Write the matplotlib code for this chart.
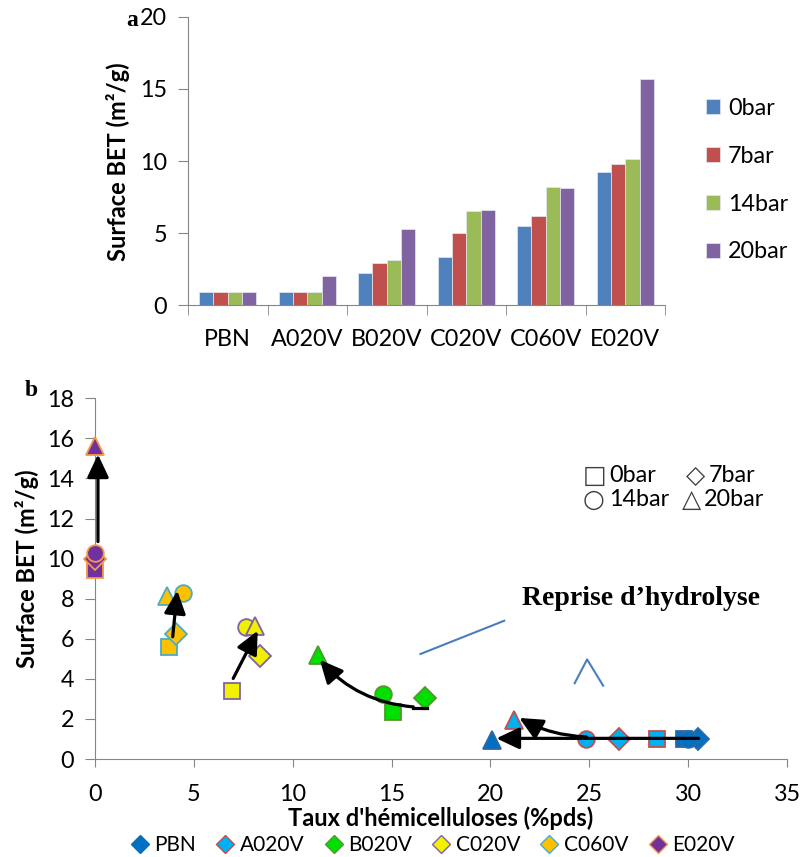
import matplotlib.pyplot as plt
from matplotlib.lines import Line2D

plt.rcParams['font.family'] = ['Lato', 'DejaVu Sans']

# ---- panel a : BET surface per sample and pressure ----
categories = ['PBN', 'A020V', 'B020V', 'C020V', 'C060V', 'E020V']
pressures = ['0bar', '7bar', '14bar', '20bar']
bet_0bar = [0.9, 0.9, 2.25, 3.3, 5.5, 9.25]
bet_7bar = [0.9, 0.9, 2.95, 5.0, 6.15, 9.8]
bet_14bar = [0.9, 0.9, 3.1, 6.5, 8.2, 10.15]
bet_20bar = [0.9, 2.0, 5.25, 6.6, 8.1, 15.7]
bar_colors = ['#4f81bd', '#c0504d', '#9bbb59', '#8064a2']

# ---- panel b : BET vs hemicellulose content (0, 7, 14, 20 bar) ----
samples = ['PBN', 'A020V', 'B020V', 'C020V', 'C060V', 'E020V']
hemi_pbn = [29.8, 30.5, 30.0, 20.1]
bet_pbn = [1.0, 1.0, 1.0, 0.95]
hemi_a020v = [28.45, 26.5, 24.85, 21.2]
bet_a020v = [1.0, 1.0, 1.0, 1.95]
hemi_b020v = [15.05, 16.7, 14.55, 11.3]
bet_b020v = [2.35, 3.03, 3.23, 5.2]
hemi_c020v = [6.95, 8.35, 7.63, 8.09]
bet_c020v = [3.41, 5.14, 6.6, 6.65]
hemi_c060v = [3.73, 4.1, 4.46, 3.65]
bet_c060v = [5.6, 6.22, 8.3, 8.15]
hemi_e020v = [0.0, 0.0, 0.0, 0.0]
bet_e020v = [9.43, 9.96, 10.26, 15.6]

fills = ['#0070c0', '#00b0f0', '#00e000', '#f0f000', '#ffc000', '#7030a0']
edges = ['#2f67a8', '#c0504d', '#4f9a2a', '#8064a2', '#4bacc6', '#f79646']
markers = ['s', 'D', 'o', '^']
marker_syms = ['\u25a1', '\u25c7', '\u25cb', '\u25b3']

# arrows: (tail x, tail y, tip x, tip y, curvature)
arrows = [
    (0.15, 10.85, 0.15, 15.2, 0.0),
    (3.93, 6.1, 4.16, 8.4, 0.0),
    (6.99, 4.02, 8.23, 6.4, 0.0),
    (16.1, 2.6, 11.37, 4.95, -0.2),
    (24.85, 1.1, 21.46, 2.05, -0.12),
    (30.53, 1.03, 20.3, 1.03, 0.0),
]

gray = '#868686'

fig = plt.figure(figsize=(8.05, 8.57), dpi=100)

# ================= panel a =================
ax1 = fig.add_axes([188/805, 1-305/857, (665-188)/805, (305-17)/857])
series = [bet_0bar, bet_7bar, bet_14bar, bet_20bar]
w = 0.18
for i, vals in enumerate(series):
    xs = [k + (i - 1.5) * w for k in range(len(categories))]
    ax1.bar(xs, vals, width=w, color=bar_colors[i], edgecolor='#e8e8f0',
            linewidth=0.5, label=pressures[i])
ax1.set_xlim(-0.5, len(categories) - 0.5)
ax1.set_ylim(0, 20)
ax1.set_yticks(range(0, 21, 5))
ax1.set_xticks(range(len(categories)))
ax1.set_xticklabels(categories)
ax1.set_xticks([k - 0.5 for k in range(len(categories) + 1)], minor=True)
ax1.tick_params(axis='x', which='major', length=0, pad=17, labelsize=16.8)
ax1.tick_params(axis='x', which='minor', length=7, color=gray)
ax1.tick_params(axis='y', length=7, color=gray, pad=8, labelsize=16.8)
for s in ['top', 'right']:
    ax1.spines[s].set_visible(False)
for s in ['left', 'bottom']:
    ax1.spines[s].set_color(gray)
ax1.set_ylabel('Surface BET (m²/g)', fontsize=17, fontweight='bold')
ax1.yaxis.set_label_coords(-(188 - 130) / 477, (305 - 162) / 288)
ax1.legend(loc='upper left', bbox_to_anchor=(706/805, 1-98/857),
           bbox_transform=fig.transFigure, frameon=False, fontsize=16.8,
           handlelength=0.6, handleheight=0.6, handletextpad=0.35,
           labelspacing=1.15, borderpad=0, borderaxespad=0)
fig.text(132/805, 1-20/857, 'a', family='Liberation Serif', fontsize=17,
         fontweight='bold', ha='center', va='center')

# ================= panel b =================
ax2 = fig.add_axes([95/805, 1-759/857, (787-95)/805, (759-398.3)/857])
hemi = [hemi_pbn, hemi_a020v, hemi_b020v, hemi_c020v, hemi_c060v, hemi_e020v]
bet = [bet_pbn, bet_a020v, bet_b020v, bet_c020v, bet_c060v, bet_e020v]
sizes = {'s': 12, 'D': 11, 'o': 12, '^': 13}
for j in range(len(samples)):
    for p in range(4):
        m = markers[p]
        ax2.plot(hemi[j][p], bet[j][p], marker=m, ls='none', ms=sizes[m],
                 mfc=fills[j], mec=edges[j], mew=1.3, clip_on=False, zorder=3)

for x0, y0, x1, y1, rad in arrows:
    ax2.annotate('', xy=(x1, y1), xytext=(x0, y0),
                 arrowprops=dict(arrowstyle='-|>,head_length=0.7,head_width=0.33',
                                 color='black', lw=2.3, mutation_scale=20,
                                 shrinkA=0, shrinkB=0,
                                 connectionstyle='arc3,rad=%s' % rad),
                 zorder=5)
# small hook at the start of the B020V arrow
ax2.plot([16.1, 16.8], [2.53, 2.53], color='black', lw=2.3, zorder=5)

# pointer lines for the "Reprise d'hydrolyse" note
ax2.plot([16.46, 20.7], [5.24, 6.9], color='#4a7ebb', lw=1.5)
ax2.plot([24.26, 24.89, 25.7], [3.78, 4.97, 3.66], color='#4a7ebb', lw=1.5)
ax2.text(27.6, 8.03, 'Reprise d\u2019hydrolyse', family='Liberation Serif',
         fontsize=20, fontweight='bold', ha='center', va='center')

ax2.set_xlim(0, 35)
ax2.set_ylim(0, 18)
ax2.set_xticks(range(0, 36, 5))
ax2.set_yticks(range(0, 19, 2))
ax2.tick_params(axis='x', length=6, color=gray, pad=12, labelsize=16.8)
ax2.tick_params(axis='y', length=7, color=gray, pad=8, labelsize=16.8)
for s in ['top', 'right']:
    ax2.spines[s].set_visible(False)
for s in ['left', 'bottom']:
    ax2.spines[s].set_color(gray)
ax2.set_ylabel('Surface BET (m²/g)', fontsize=17, fontweight='bold')
ax2.yaxis.set_label_coords(-(95 - 39) / 692, (759 - 569) / 360.7)
ax2.set_xlabel("Taux d'hémicelluloses (%pds)", fontsize=17, fontweight='bold')
ax2.xaxis.set_label_coords(0.5, -(818 - 759) / 360.7)
ax2.xaxis.label.set_va('center')

# marker key (text box in the original): symbol x, text x, baseline y
key_pos = [(583, 609, 482), (686, 709, 482), (583, 609, 506), (682, 704, 506)]
for (sx, tx, by), sym, lab in zip(key_pos, marker_syms, pressures):
    fig.text(sx/805, 1-(by + 1)/857, sym, family='DejaVu Sans', fontsize=18,
             ha='left', va='baseline', color='#404040')
    fig.text(tx/805, 1-by/857, lab, fontsize=16.8, ha='left', va='baseline')

fig.text(31/805, 1-391/857, 'b', family='Liberation Serif', fontsize=17,
         fontweight='bold', ha='center', va='center')

handles = [Line2D([], [], marker='D', ls='none', ms=9, mfc=fills[j],
                  mec=edges[j] if j else fills[j], mew=1)
           for j in range(len(samples))]
fig.legend(handles, samples, loc='center', bbox_to_anchor=(433/805, 1-845/857),
           ncol=6, frameon=False, fontsize=15, handlelength=0.8,
           handletextpad=0.3, columnspacing=1.0, borderpad=0)

fig.savefig('out.png', dpi=100)
